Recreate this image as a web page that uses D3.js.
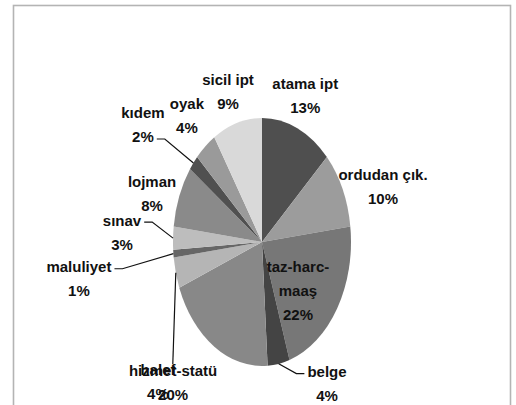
<!DOCTYPE html>
<html><head><meta charset="utf-8">
<script src="https://cdn.jsdelivr.net/npm/d3@7"></script>
<style>body{margin:0;background:#fff} svg{display:block}</style>
</head><body>
<svg id="chart" width="516" height="405"></svg>
<script>
// ---- data ----
const categories = ["atama ipt","ordudan çık.","taz-harc-maaş","belge","hizmet-statü","halef","maluliyet","sınav","lojman","kıdem","oyak","sicil ipt"];
const values = [13, 10, 22, 4, 20, 4, 1, 3, 8, 2, 4, 9];
const colors = ["#4f4f4f","#9c9c9c","#777777","#444444","#888888","#b5b5b5","#666666","#bdbdbd","#8a8a8a","#505050","#9a9a9a","#d9d9d9"];

// ---- layout (label placement in ellipse-normalized polar coords) ----
const labelRadius = [1.28, 1.43, 0.56, 1.355, 1.508, 1.625, 2.078, 1.575, 1.296, 1.637, 1.326, 1.276];
const labelAngle  = [22.3, 71.9, 133.8, 147.4, 221.5, 226, 261.8, 272.9, 287.6, 305.2, 320.5, 342.6];
const leaderSide  = [null, null, null, "left0", null, "top", "right0", "right0", null, "right1", null, null];
const wrapWidth   = [200, 200, 74, 200, 200, 200, 200, 200, 200, 200, 200, 200];

const W = 516, H = 405;
const cx = 262, cy = 242, rx = 89, ry = 124;
const lineH = 24;

const svg = d3.select("#chart");
svg.append("rect").attr("x", 13.5).attr("y", 5.5).attr("width", 497).attr("height", 430)
  .attr("fill", "#fff").attr("stroke", "#b4b4b4").attr("stroke-width", 1.6);

const pie = d3.pie().sort(null).value(d => d)(values);
const arc = d3.arc().innerRadius(0).outerRadius(rx);

const pieG = svg.append("g").attr("transform", `translate(${cx},${cy}) scale(1,${ry/rx})`);
pieG.selectAll("path").data(pie).enter().append("path")
  .attr("d", arc).attr("fill", (d, i) => colors[i]);

const toRad = a => a * Math.PI / 180;
function ellPoint(angRad, k) {
  return [cx + rx * k * Math.sin(angRad), cy - ry * k * Math.cos(angRad)];
}

const fontCss = "bold 15px 'Liberation Sans Narrow', 'Arial Narrow', sans-serif";
const labG = svg.append("g");
const leadG = svg.append("g");

pie.forEach((d, i) => {
  const [lx, ly] = ellPoint(toRad(labelAngle[i]), labelRadius[i]);
  const t = labG.append("text").attr("text-anchor", "middle")
    .style("font", fontCss).attr("fill", "#111");
  // wrap name
  const tokens = categories[i].match(/[^\s-]+-?\s?/g);
  const lines = [];
  let cur = "";
  const meas = t.append("tspan");
  tokens.forEach(tok => {
    const trial = cur + tok;
    meas.text(trial.trim());
    if (cur && meas.node().getComputedTextLength() > wrapWidth[i]) { lines.push(cur.trim()); cur = tok; }
    else cur = trial;
  });
  lines.push(cur.trim());
  meas.remove();
  lines.push(values[i] + "%");
  const n = lines.length;
  const widths = [];
  lines.forEach((s, j) => {
    const ts = t.append("tspan").attr("x", lx).attr("y", ly + (j - (n - 1) / 2) * lineH)
      .attr("dominant-baseline", "central").text(s);
    widths.push(ts.node().getComputedTextLength());
  });
  const side = leaderSide[i];
  if (side) {
    const mid = (d.startAngle + d.endAngle) / 2;
    const [px, py] = ellPoint(mid, 1);
    let pts;
    if (side === "top") {
      const top = ly - (n / 2) * lineH + 6;
      pts = [[px, py], [px - 3, top]];
    } else {
      const j = +side.slice(-1);
      const yy = ly + (j - (n - 1) / 2) * lineH + 2;
      if (side.startsWith("right")) {
        const ex = lx + widths[j] / 2 + 3;
        pts = [[px, py], [ex + 8, yy], [ex, yy]];
      } else {
        const ex = lx - widths[j] / 2 - 3;
        pts = [[px, py], [ex - 8, yy], [ex, yy]];
      }
    }
    leadG.append("path").attr("d", d3.line()(pts)).attr("fill", "none")
      .attr("stroke", "#111").attr("stroke-width", 1.2);
  }
});
</script>
</body></html>
